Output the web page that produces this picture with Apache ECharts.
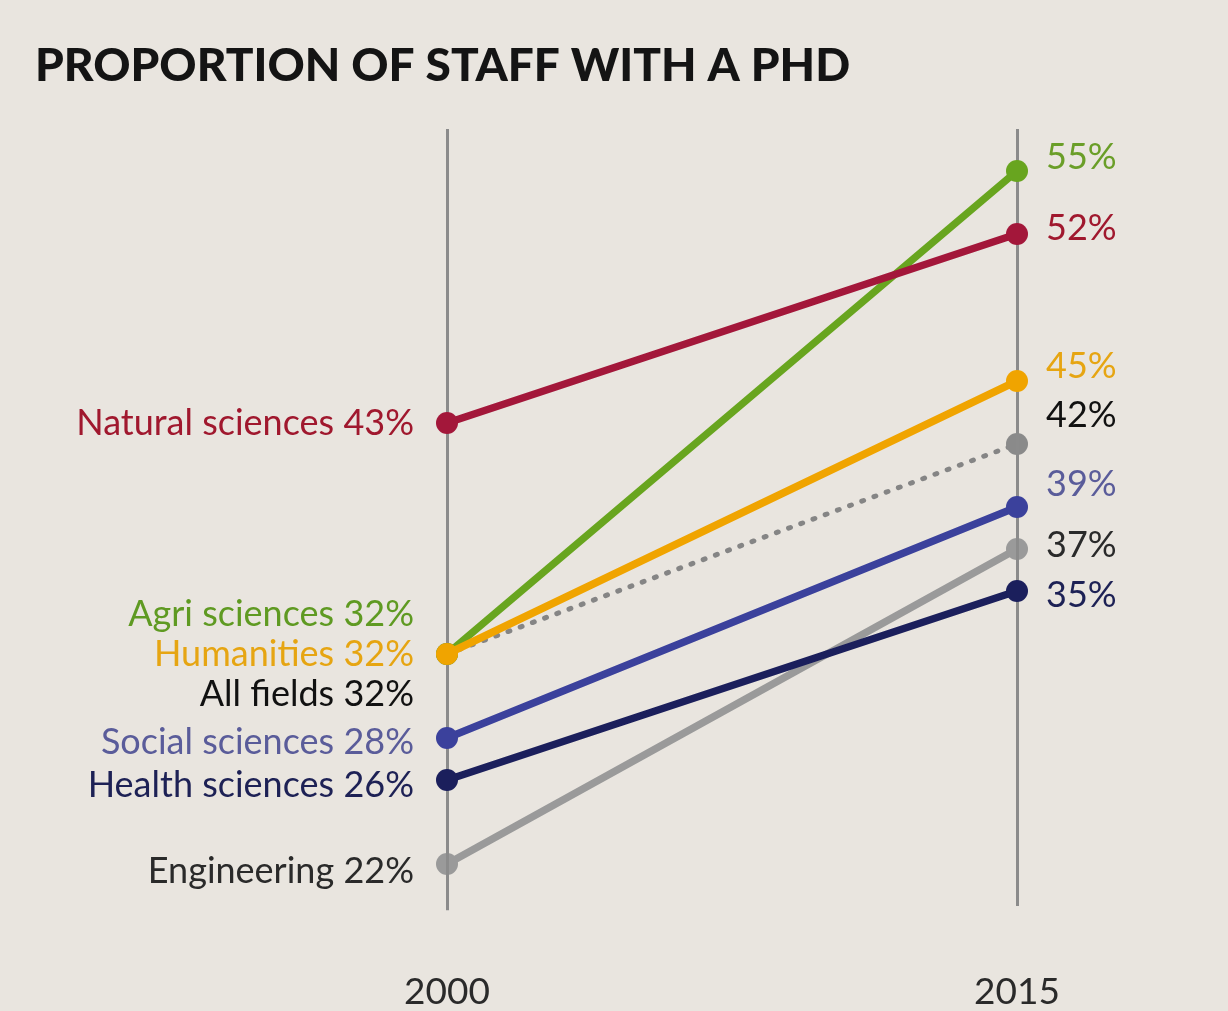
<!DOCTYPE html>
<html><head><meta charset="utf-8">
<script src="https://cdn.jsdelivr.net/npm/echarts@6/dist/echarts.min.js"></script>
<style>html,body{margin:0;padding:0;background:#e9e5df;}#c{width:1228px;height:1011px;}</style>
</head><body><div id="c"></div>
<script>
const years = ['2000', '2015'];
const fields = ['All fields', 'Engineering', 'Agri sciences', 'Humanities', 'Social sciences', 'Health sciences', 'Natural sciences'];
const allFields = [32, 42];
const engineering = [22, 37];
const agriSciences = [32, 55];
const humanities = [32, 45];
const socialSciences = [28, 39];
const healthSciences = [26, 35];
const naturalSciences = [43, 52];
const titleText = 'PROPORTION OF STAFF WITH A PHD';

const values = [allFields, engineering, agriSciences, humanities, socialSciences, healthSciences, naturalSciences];
const style = {
  'All fields':       {line:'#858585', label:'#111', rlabel:'#111', dot:true, lo:[0,40], ro:[0,-29]},
  'Engineering':      {line:'#9a9a9a', label:'#2a2a2a', rlabel:'#2a2a2a', lo:[0,7], ro:[0,-4]},
  'Agri sciences':    {line:'#68a51f', label:'#5f9a22', rlabel:'#6a9e28', lo:[0,-40], ro:[0,-14]},
  'Humanities':       {line:'#f0a400', label:'#e6a512', rlabel:'#e6a512', lo:[0,0], ro:[0,-15]},
  'Social sciences':  {line:'#3b419c', label:'#5a5c9a', rlabel:'#5a5c9a', lo:[0,4], ro:[0,-23]},
  'Health sciences':  {line:'#1b1f5c', label:'#1d2155', rlabel:'#1d2155', lo:[0,5], ro:[0,4]},
  'Natural sciences': {line:'#a3173a', label:'#a0182e', rlabel:'#a0182e', lo:[0,0], ro:[0,-6]}
};
const font = 'Lato, "Open Sans", sans-serif';

const series = fields.map((f, i) => {
  const s = style[f];
  return {
    type: 'line', name: f, z: 3 + i,
    data: values[i].map((v, j) => ({
      value: v,
      label: {
        show: true,
        position: j === 0 ? 'left' : 'right',
        distance: j === 0 ? 22 : 18,
        offset: j === 0 ? s.lo : s.ro,
        color: j === 0 ? s.label : s.rlabel,
        fontFamily: font, fontSize: 36,
        formatter: j === 0 ? (f + ' ' + v + '%') : (v + '%')
      }
    })),
    symbol: 'circle', symbolSize: 22,
    itemStyle: {color: s.dot ? '#8a8a8a' : s.line},
    lineStyle: {color: s.line, width: s.dot ? 5 : 7.5, type: s.dot ? [2, 11] : 'solid', cap: 'round'},
    animation: false
  };
});
series.push({
  type: 'line', data: [], z: 1, silent: true,
  markLine: {
    symbol: 'none', silent: true, animation: false,
    lineStyle: {color: '#8b8b8b', width: 3, type: 'solid'},
    label: {show: false},
    data: [
      [{coord: ['2000', 57]}, {coord: ['2000', 19.8]}],
      [{coord: ['2015', 57]}, {coord: ['2015', 20]}]
    ]
  }
});

const chart = echarts.init(document.getElementById('c'));
chart.setOption({
  backgroundColor: '#e9e5df',
  title: {text: titleText, left: 30, top: 38,
    textStyle: {fontFamily: font, fontWeight: 900, fontSize: 46, color: '#141414'}},
  grid: {left: 447, right: 211, top: 108, bottom: 59},
  xAxis: {type: 'category', data: years, boundaryGap: false,
    axisLine: {show: false}, axisTick: {show: false}, splitLine: {show: false},
    axisLabel: {margin: 26, color: '#2a2a2a', fontFamily: font, fontSize: 37}},
  yAxis: {type: 'value', min: 18, max: 58, show: false},
  series: series
});
</script></body></html>
